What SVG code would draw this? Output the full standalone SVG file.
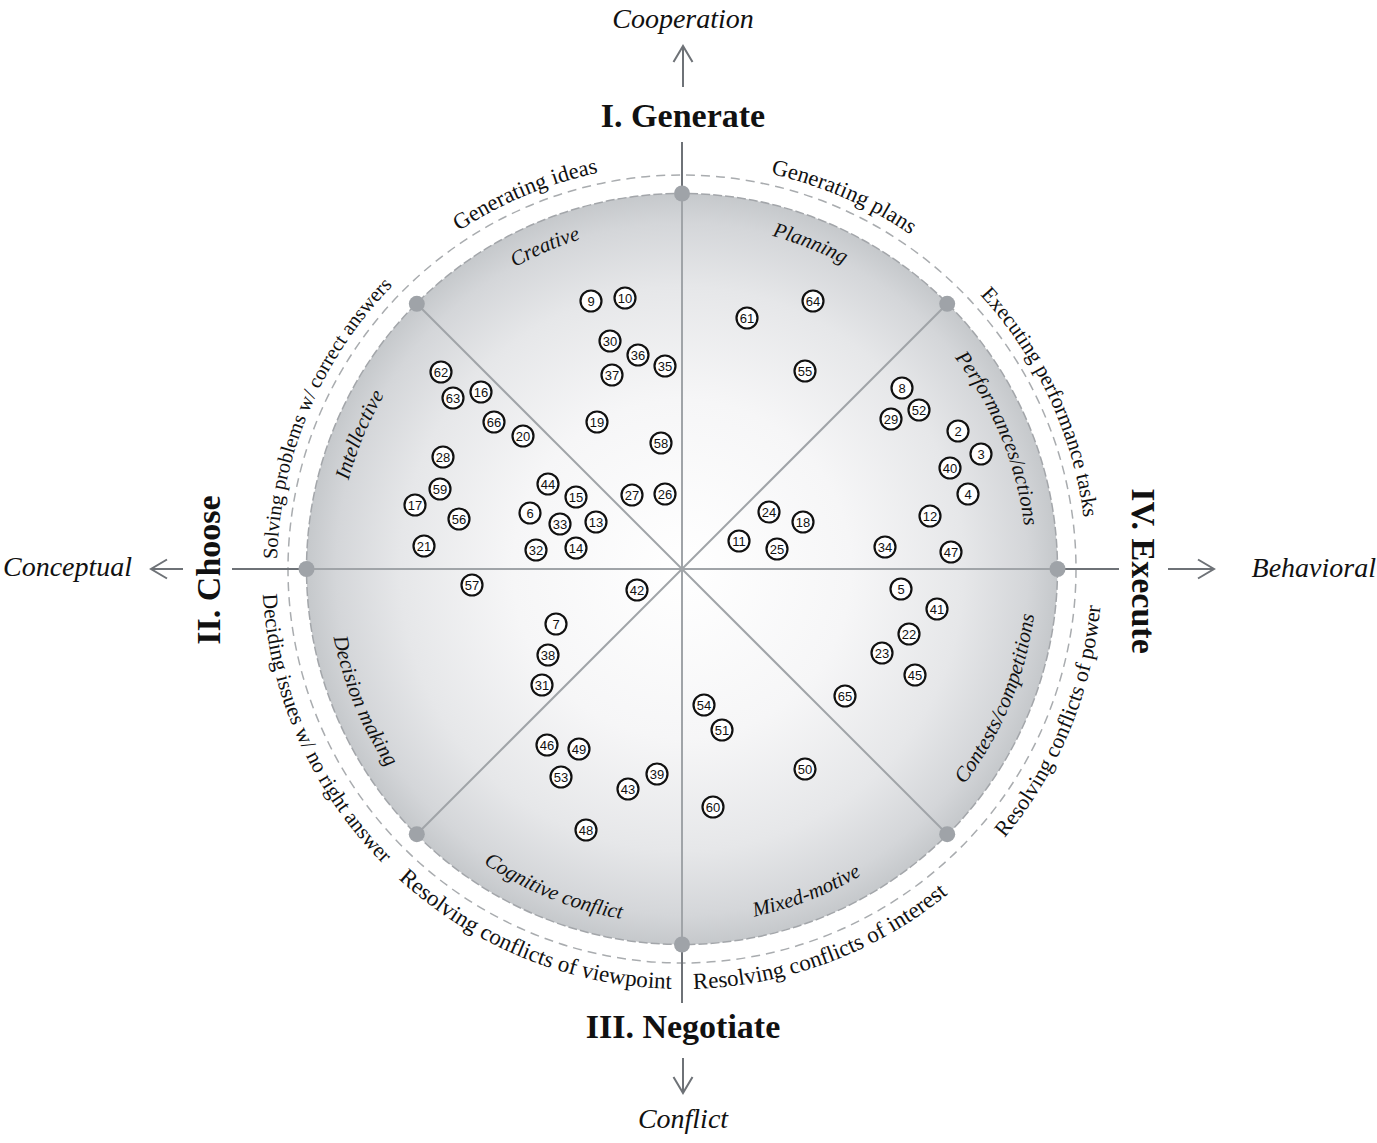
<svg xmlns="http://www.w3.org/2000/svg" width="1377" height="1143" viewBox="0 0 1377 1143">
<style>
.serif{font-family:"Liberation Serif","Times New Roman",serif;fill:#111}
.axis{font-size:28px;font-style:italic}
.quad{font-size:34px;font-weight:bold}
.inner{font-size:21px;font-style:italic}
.num circle{fill:#fff;stroke:#111;stroke-width:2.2}
.num text{font-family:"Liberation Sans",Arial,sans-serif;font-size:13px;fill:#111;text-anchor:middle}
.rad{stroke:#a0a4a8;stroke-width:2;fill:none}
.ax{stroke:#6e7277;stroke-width:2;fill:none}
.arr{stroke:#6e7277;stroke-width:2;fill:none;marker-end:url(#chev)}
.dot{fill:#9fa3a8}
</style>
<defs>
<radialGradient id="disk" gradientUnits="userSpaceOnUse" cx="682" cy="569" r="376">
<stop offset="0" stop-color="#ffffff"/>
<stop offset="0.45" stop-color="#f6f6f7"/>
<stop offset="0.75" stop-color="#e6e7e9"/>
<stop offset="0.92" stop-color="#d4d6d9"/>
<stop offset="1" stop-color="#c5c8cb"/>
</radialGradient>
<marker id="chev" markerUnits="userSpaceOnUse" viewBox="0 0 20 22" refX="18" refY="11" markerWidth="20" markerHeight="22" orient="auto">
<path d="M2,1.5 L18,11 L2,20.5" fill="none" stroke="#6e7277" stroke-width="2"/>
</marker>
<path id="oc" d="M682,164 A405,405 0 1 1 682,974 A405,405 0 1 1 682,164"/>
<path id="occ" d="M682,149 A420,420 0 1 0 682,989 A420,420 0 1 0 682,149"/>
<path id="ic" d="M682,224 A345,345 0 1 1 682,914 A345,345 0 1 1 682,224"/>
<path id="icc" d="M682,214 A355,355 0 1 0 682,924 A355,355 0 1 0 682,214"/>
</defs>
<rect width="1377" height="1143" fill="#fff"/>

<g id="disk-area">
<circle cx="682" cy="569" r="394" fill="none" stroke="#a9acaf" stroke-width="1.5" stroke-dasharray="9 6"/>
<circle cx="682" cy="569" r="375.5" fill="url(#disk)" stroke="#a3a6aa" stroke-width="1.5" stroke-dasharray="9 3"/>
</g>

<g id="connectors">
<line class="rad" x1="682" y1="193" x2="682" y2="944"/>
<line class="rad" x1="307" y1="569" x2="1057" y2="569"/>
<line class="rad" x1="416.8" y1="303.8" x2="947.2" y2="834.2"/>
<line class="rad" x1="947.2" y1="303.8" x2="416.8" y2="834.2"/>
<line class="ax" x1="682" y1="142" x2="682" y2="193"/>
<line class="ax" x1="682" y1="944" x2="682" y2="1003"/>
<line class="ax" x1="232" y1="569" x2="307" y2="569"/>
<line class="ax" x1="1057" y1="569" x2="1119" y2="569"/>
<line class="arr" x1="683" y1="87" x2="683" y2="46"/>
<line class="arr" x1="683" y1="1058" x2="683" y2="1093"/>
<line class="arr" x1="183" y1="569" x2="151" y2="569"/>
<line class="arr" x1="1168" y1="569" x2="1214" y2="569"/>
</g>

<g id="dots">
<circle class="dot" cx="682" cy="193.5" r="8"/>
<circle class="dot" cx="947.2" cy="303.8" r="8"/>
<circle class="dot" cx="1057.5" cy="569" r="8"/>
<circle class="dot" cx="947.2" cy="834.2" r="8"/>
<circle class="dot" cx="682" cy="944.5" r="8"/>
<circle class="dot" cx="416.8" cy="834.2" r="8"/>
<circle class="dot" cx="306.5" cy="569" r="8"/>
<circle class="dot" cx="416.8" cy="303.8" r="8"/>
</g>

<g id="axis-labels" class="serif">
<text class="axis" x="683" y="28" text-anchor="middle">Cooperation</text>
<text class="axis" x="683" y="1128" text-anchor="middle">Conflict</text>
<text class="axis" x="3" y="576">Conceptual</text>
<text class="axis" x="1376" y="577" text-anchor="end">Behavioral</text>
<text class="quad" x="683" y="127" text-anchor="middle">I. Generate</text>
<text class="quad" x="683" y="1038" text-anchor="middle">III. Negotiate</text>
<text class="quad" transform="translate(220,570) rotate(-90)" text-anchor="middle">II. Choose</text>
<text class="quad" transform="translate(1132,571) rotate(90)" text-anchor="middle">IV. Execute</text>
</g>

<g id="outer-labels" class="serif">
<text font-size="22.5"><textPath href="#oc" startOffset="2383.5" text-anchor="middle">Generating ideas</textPath></text>
<text font-size="22.5"><textPath href="#oc" startOffset="166.1" text-anchor="middle">Generating plans</textPath></text>
<text font-size="21.5"><textPath href="#oc" startOffset="459.5" text-anchor="middle">Executing performance tasks</textPath></text>
<text font-size="20.5"><textPath href="#oc" startOffset="2069.7" text-anchor="middle">Solving problems w/ correct answers</textPath></text>
<text font-size="21.5"><textPath href="#occ" startOffset="835.7" text-anchor="middle">Deciding issues w/ no right answer</textPath></text>
<text font-size="23"><textPath href="#occ" startOffset="1158.2" text-anchor="middle">Resolving conflicts of viewpoint</textPath></text>
<text font-size="23"><textPath href="#occ" startOffset="1469" text-anchor="middle">Resolving conflicts of interest</textPath></text>
<text font-size="22"><textPath href="#occ" startOffset="1814.3" text-anchor="middle">Resolving conflicts of power</textPath></text>
</g>

<g id="inner-labels" class="serif inner">
<text><textPath href="#ic" startOffset="2028" text-anchor="middle">Creative</textPath></text>
<text><textPath href="#ic" startOffset="129.5" text-anchor="middle">Planning</textPath></text>
<text><textPath href="#ic" startOffset="1761.3" text-anchor="middle">Intellective</textPath></text>
<text><textPath href="#ic" startOffset="406.4" text-anchor="middle">Performances/actions</textPath></text>
<text><textPath href="#icc" startOffset="697" text-anchor="middle">Decision making</textPath></text>
<text><textPath href="#icc" startOffset="979" text-anchor="middle">Cognitive conflict</textPath></text>
<text><textPath href="#icc" startOffset="1245.4" text-anchor="middle">Mixed-motive</textPath></text>
<text><textPath href="#icc" startOffset="1533.5" text-anchor="middle">Contests/competitions</textPath></text>
</g>

<g id="items">
<g id="n9" class="num" transform="translate(591,301)"><circle r="10.5"/><text y="4.7">9</text></g>
<g id="n10" class="num" transform="translate(625,298)"><circle r="10.5"/><text y="4.7">10</text></g>
<g id="n30" class="num" transform="translate(610,341)"><circle r="10.5"/><text y="4.7">30</text></g>
<g id="n36" class="num" transform="translate(638,355)"><circle r="10.5"/><text y="4.7">36</text></g>
<g id="n35" class="num" transform="translate(665,366)"><circle r="10.5"/><text y="4.7">35</text></g>
<g id="n37" class="num" transform="translate(612,375)"><circle r="10.5"/><text y="4.7">37</text></g>
<g id="n19" class="num" transform="translate(597,422)"><circle r="10.5"/><text y="4.7">19</text></g>
<g id="n58" class="num" transform="translate(661,443)"><circle r="10.5"/><text y="4.7">58</text></g>
<g id="n27" class="num" transform="translate(632,495)"><circle r="10.5"/><text y="4.7">27</text></g>
<g id="n26" class="num" transform="translate(665,494)"><circle r="10.5"/><text y="4.7">26</text></g>
<g id="n62" class="num" transform="translate(441,372)"><circle r="10.5"/><text y="4.7">62</text></g>
<g id="n16" class="num" transform="translate(481,392)"><circle r="10.5"/><text y="4.7">16</text></g>
<g id="n63" class="num" transform="translate(453,398)"><circle r="10.5"/><text y="4.7">63</text></g>
<g id="n66" class="num" transform="translate(494,422)"><circle r="10.5"/><text y="4.7">66</text></g>
<g id="n20" class="num" transform="translate(523,436)"><circle r="10.5"/><text y="4.7">20</text></g>
<g id="n28" class="num" transform="translate(443,457)"><circle r="10.5"/><text y="4.7">28</text></g>
<g id="n59" class="num" transform="translate(440,489)"><circle r="10.5"/><text y="4.7">59</text></g>
<g id="n17" class="num" transform="translate(415,505)"><circle r="10.5"/><text y="4.7">17</text></g>
<g id="n56" class="num" transform="translate(459,519)"><circle r="10.5"/><text y="4.7">56</text></g>
<g id="n21" class="num" transform="translate(424,546)"><circle r="10.5"/><text y="4.7">21</text></g>
<g id="n44" class="num" transform="translate(548,484)"><circle r="10.5"/><text y="4.7">44</text></g>
<g id="n15" class="num" transform="translate(576,497)"><circle r="10.5"/><text y="4.7">15</text></g>
<g id="n6" class="num" transform="translate(530,513)"><circle r="10.5"/><text y="4.7">6</text></g>
<g id="n33" class="num" transform="translate(560,524)"><circle r="10.5"/><text y="4.7">33</text></g>
<g id="n13" class="num" transform="translate(596,522)"><circle r="10.5"/><text y="4.7">13</text></g>
<g id="n32" class="num" transform="translate(536,550)"><circle r="10.5"/><text y="4.7">32</text></g>
<g id="n14" class="num" transform="translate(576,548)"><circle r="10.5"/><text y="4.7">14</text></g>
<g id="n57" class="num" transform="translate(472,585)"><circle r="10.5"/><text y="4.7">57</text></g>
<g id="n42" class="num" transform="translate(637,590)"><circle r="10.5"/><text y="4.7">42</text></g>
<g id="n7" class="num" transform="translate(556,624)"><circle r="10.5"/><text y="4.7">7</text></g>
<g id="n38" class="num" transform="translate(548,655)"><circle r="10.5"/><text y="4.7">38</text></g>
<g id="n31" class="num" transform="translate(542,685)"><circle r="10.5"/><text y="4.7">31</text></g>
<g id="n46" class="num" transform="translate(547,745)"><circle r="10.5"/><text y="4.7">46</text></g>
<g id="n49" class="num" transform="translate(579,749)"><circle r="10.5"/><text y="4.7">49</text></g>
<g id="n53" class="num" transform="translate(561,777)"><circle r="10.5"/><text y="4.7">53</text></g>
<g id="n39" class="num" transform="translate(657,774)"><circle r="10.5"/><text y="4.7">39</text></g>
<g id="n43" class="num" transform="translate(628,789)"><circle r="10.5"/><text y="4.7">43</text></g>
<g id="n48" class="num" transform="translate(586,830)"><circle r="10.5"/><text y="4.7">48</text></g>
<g id="n54" class="num" transform="translate(704,705)"><circle r="10.5"/><text y="4.7">54</text></g>
<g id="n51" class="num" transform="translate(722,730)"><circle r="10.5"/><text y="4.7">51</text></g>
<g id="n50" class="num" transform="translate(805,769)"><circle r="10.5"/><text y="4.7">50</text></g>
<g id="n60" class="num" transform="translate(713,807)"><circle r="10.5"/><text y="4.7">60</text></g>
<g id="n65" class="num" transform="translate(845,696)"><circle r="10.5"/><text y="4.7">65</text></g>
<g id="n5" class="num" transform="translate(901,589)"><circle r="10.5"/><text y="4.7">5</text></g>
<g id="n41" class="num" transform="translate(937,609)"><circle r="10.5"/><text y="4.7">41</text></g>
<g id="n22" class="num" transform="translate(909,634)"><circle r="10.5"/><text y="4.7">22</text></g>
<g id="n23" class="num" transform="translate(882,653)"><circle r="10.5"/><text y="4.7">23</text></g>
<g id="n45" class="num" transform="translate(915,675)"><circle r="10.5"/><text y="4.7">45</text></g>
<g id="n34" class="num" transform="translate(885,547)"><circle r="10.5"/><text y="4.7">34</text></g>
<g id="n47" class="num" transform="translate(951,552)"><circle r="10.5"/><text y="4.7">47</text></g>
<g id="n12" class="num" transform="translate(930,516)"><circle r="10.5"/><text y="4.7">12</text></g>
<g id="n4" class="num" transform="translate(968,494)"><circle r="10.5"/><text y="4.7">4</text></g>
<g id="n40" class="num" transform="translate(950,468)"><circle r="10.5"/><text y="4.7">40</text></g>
<g id="n3" class="num" transform="translate(981,454)"><circle r="10.5"/><text y="4.7">3</text></g>
<g id="n2" class="num" transform="translate(958,431)"><circle r="10.5"/><text y="4.7">2</text></g>
<g id="n29" class="num" transform="translate(891,419)"><circle r="10.5"/><text y="4.7">29</text></g>
<g id="n52" class="num" transform="translate(919,410)"><circle r="10.5"/><text y="4.7">52</text></g>
<g id="n8" class="num" transform="translate(902,388)"><circle r="10.5"/><text y="4.7">8</text></g>
<g id="n61" class="num" transform="translate(747,318)"><circle r="10.5"/><text y="4.7">61</text></g>
<g id="n64" class="num" transform="translate(813,301)"><circle r="10.5"/><text y="4.7">64</text></g>
<g id="n55" class="num" transform="translate(805,371)"><circle r="10.5"/><text y="4.7">55</text></g>
<g id="n24" class="num" transform="translate(769,512)"><circle r="10.5"/><text y="4.7">24</text></g>
<g id="n18" class="num" transform="translate(803,522)"><circle r="10.5"/><text y="4.7">18</text></g>
<g id="n11" class="num" transform="translate(739,541)"><circle r="10.5"/><text y="4.7">11</text></g>
<g id="n25" class="num" transform="translate(777,549)"><circle r="10.5"/><text y="4.7">25</text></g>
</g>
</svg>
